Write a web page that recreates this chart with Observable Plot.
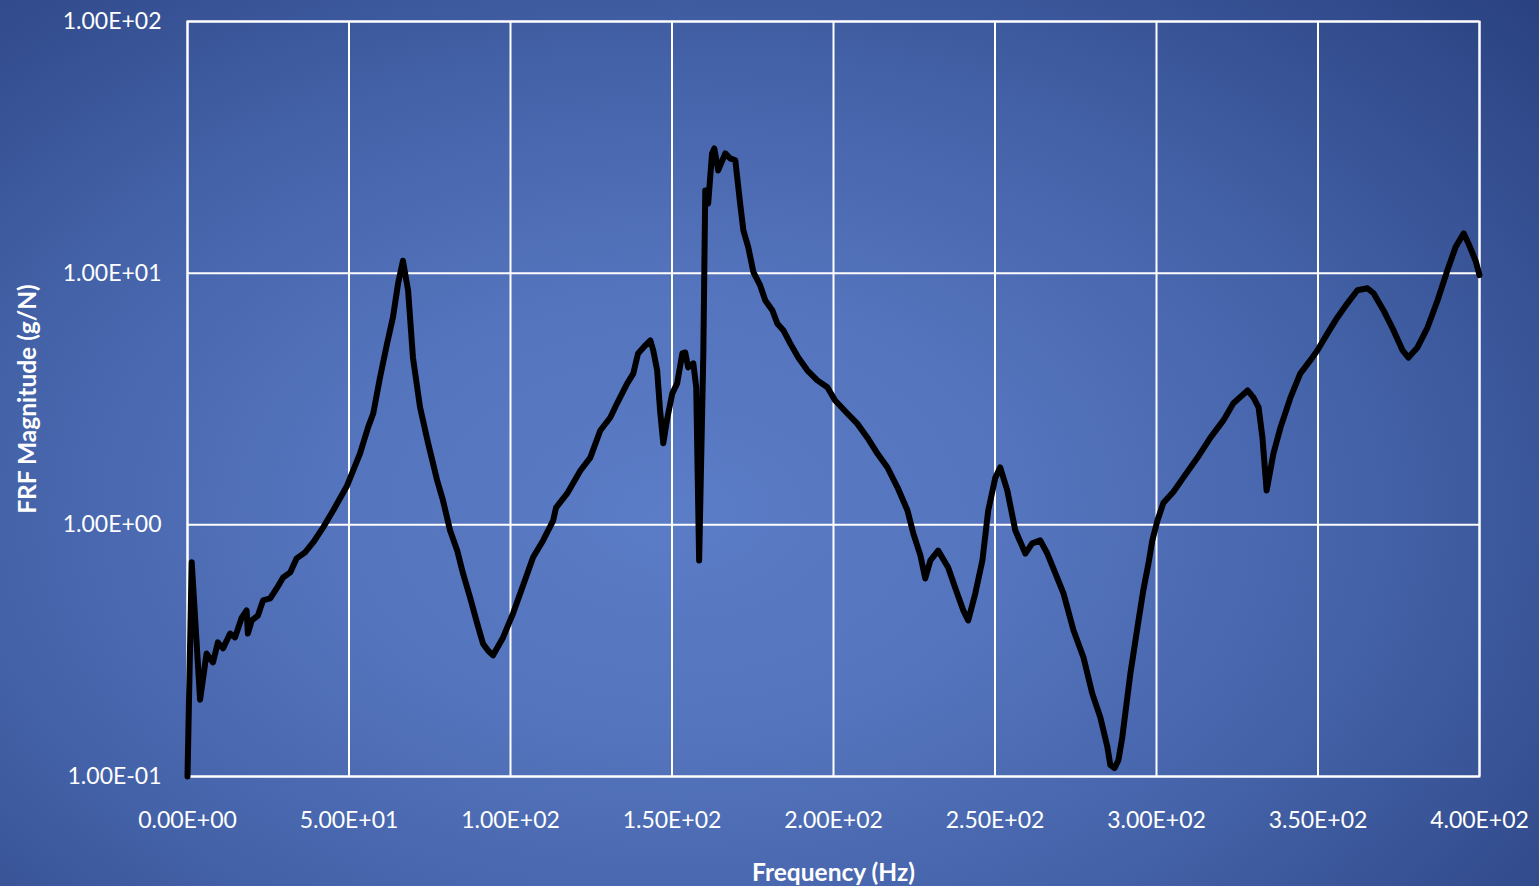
<!DOCTYPE html>
<html>
<head>
<meta charset="utf-8">
<script src="https://cdn.jsdelivr.net/npm/d3@7"></script>
<script src="https://cdn.jsdelivr.net/npm/@observablehq/plot@0.6"></script>
<style>
  html, body { margin: 0; padding: 0; }
  body { width: 1539px; height: 886px; overflow: hidden;
    background: radial-gradient(ellipse 75% 85% at 44% 58%, #5b7cc6 0%, #5474bd 30%, #4462a8 60%, #2a4281 100%); }
  #chart svg { display: block; }
</style>
</head>
<body>
<div id="chart"></div>
<script>
// Frequency (Hz)
const frequency = [
  0, 1.3, 3.9, 5.9, 7.9, 9.4, 11.0, 13.2, 14.7, 16.8, 18.3, 18.7, 19.9, 21.8, 23.4, 25.6, 27.6, 29.6, 31.8, 33.8,
  36.4, 38.9, 42.0, 45.1, 49.4, 53.4, 55.9, 57.5, 59.6, 61.8, 63.6, 65.2, 66.7, 68.3, 69.8, 72.0, 74.5, 77.3, 79.1, 81.3,
  83.5, 85.3, 87.5, 89.7, 91.5, 93.1, 94.6, 97.7, 100.8, 103.0, 107.0, 110.1, 113.2, 114.1, 117.5, 121.6, 124.7, 127.8, 130.9, 133.0,
  136.1, 138.0, 139.5, 141.7, 143.3, 144.2, 145.4, 146.3, 147.3, 148.5, 150.1, 151.6, 153.2, 154.1, 155.0, 156.6, 157.5, 158.4, 159.7, 160.3,
  161.2, 162.4, 163.1, 164.3, 166.5, 168.0, 169.6, 171.1, 172.1, 173.6, 175.2, 177.3, 178.9, 181.1, 182.6, 184.5, 186.6, 189.1, 191.9, 195.0,
  198.1, 200.5, 204.3, 207.3, 210.5, 213.6, 216.7, 219.8, 222.9, 224.7, 226.9, 228.4, 230.0, 232.4, 235.5, 238.3, 240.2, 241.7, 243.9, 246.1,
  247.9, 250.1, 251.6, 253.8, 256.3, 259.4, 261.5, 264.0, 266.2, 268.7, 271.2, 274.3, 277.4, 280.1, 282.6, 284.8, 285.7, 287.0, 288.2, 289.4,
  291.9, 294.1, 295.9, 297.5, 298.7, 300.3, 302.1, 305.2, 308.3, 312.7, 316.7, 320.7, 323.8, 328.2, 330.0, 331.6, 332.8, 334.1, 336.2, 338.4,
  341.5, 344.5, 347.6, 349.8, 352.9, 356.0, 359.1, 362.2, 365.3, 367.2, 370.3, 373.4, 376.2, 378.0, 380.8, 383.9, 387.0, 390.1, 392.6, 395.1,
  396.6, 398.8, 400.0
];
// FRF magnitude (g/N)
const magnitude = [
  0.1, 0.71, 0.202, 0.308, 0.284, 0.341, 0.323, 0.370, 0.357, 0.428, 0.457, 0.370, 0.417, 0.436, 0.501, 0.510, 0.559, 0.618, 0.647, 0.736,
  0.777, 0.851, 0.977, 1.14, 1.43, 1.92, 2.44, 2.77, 3.85, 5.26, 6.67, 9.10, 11.2, 8.53, 4.62, 2.93, 2.11, 1.50, 1.25, 0.949,
  0.790, 0.641, 0.514, 0.405, 0.337, 0.316, 0.303, 0.357, 0.445, 0.534, 0.743, 0.867, 1.04, 1.17, 1.33, 1.64, 1.85, 2.37, 2.67, 3.04,
  3.64, 3.99, 4.80, 5.16, 5.40, 4.93, 4.11, 2.85, 2.11, 2.64, 3.33, 3.65, 4.80, 4.84, 4.22, 4.38, 3.52, 0.722, 4.80, 21.3,
  18.9, 29.9, 31.3, 25.6, 29.9, 28.6, 28.1, 18.9, 14.8, 12.7, 10.1, 8.94, 7.79, 7.11, 6.31, 5.92, 5.26, 4.62, 4.11, 3.75,
  3.52, 3.12, 2.77, 2.53, 2.22, 1.92, 1.69, 1.41, 1.14, 0.925, 0.756, 0.612, 0.722, 0.790, 0.677, 0.534, 0.457, 0.417, 0.534, 0.722,
  1.14, 1.54, 1.69, 1.37, 0.949, 0.769, 0.844, 0.867, 0.769, 0.641, 0.534, 0.381, 0.297, 0.214, 0.172, 0.131, 0.111, 0.108, 0.116, 0.143,
  0.256, 0.391, 0.548, 0.701, 0.867, 1.04, 1.22, 1.35, 1.54, 1.85, 2.22, 2.60, 3.04, 3.42, 3.21, 2.93, 2.22, 1.37, 1.92, 2.44,
  3.21, 3.99, 4.50, 4.93, 5.75, 6.67, 7.59, 8.55, 8.71, 8.32, 7.11, 5.92, 4.93, 4.62, 5.07, 6.08, 7.79, 10.3, 12.7, 14.4,
  13.1, 11.2, 9.82
];
const xTicks = [0, 50, 100, 150, 200, 250, 300, 350, 400];
const yTicks = [0.1, 1, 10, 100];
const xTitle = "Frequency (Hz)";
const yTitle = "FRF Magnitude (g/N)";

const data = frequency.map((f, i) => ({f, m: magnitude[i]}));

function sci(v) {
  const s = Number(v).toExponential(2).toUpperCase();
  return s.replace(/E([+-])(\d)$/, "E$10$2");
}

const font = "Lato, 'Open Sans', sans-serif";

const chart = Plot.plot({
  width: 1539,
  height: 886,
  marginLeft: 187,
  marginRight: 60,
  marginTop: 21,
  marginBottom: 110,
  style: {background: "transparent", color: "white", fontFamily: font, fontSize: "23px"},
  x: {domain: [0, 400]},
  y: {type: "log", domain: [0.1, 100]},
  marks: [
    Plot.gridX(xTicks, {stroke: "white", strokeOpacity: 1, strokeWidth: 2}),
    Plot.gridY(yTicks, {stroke: "white", strokeOpacity: 1, strokeWidth: 2}),
    Plot.frame({stroke: "white", strokeWidth: 2}),
    Plot.axisX(xTicks, {tickSize: 0, tickPadding: 35, tickFormat: sci, label: null, fontSize: 23, fill: "white"}),
    Plot.axisY(yTicks, {tickSize: 0, tickPadding: 26, tickFormat: sci, label: null, fontSize: 23, fill: "white"}),
    Plot.line(data, {x: "f", y: "m", stroke: "black", strokeWidth: 6, strokeLinejoin: "round", strokeLinecap: "round"}),
    Plot.text([xTitle], {frameAnchor: "bottom", dy: 104, text: d => d, fill: "white", fontWeight: "bold", fontSize: 24.5, fontFamily: font}),
    Plot.text([yTitle], {frameAnchor: "left", dx: -159, rotate: -90, textAnchor: "middle", text: d => d, fill: "white", fontWeight: "bold", fontSize: 24.5, fontFamily: font})
  ]
});
document.getElementById("chart").append(chart);
</script>
</body>
</html>
